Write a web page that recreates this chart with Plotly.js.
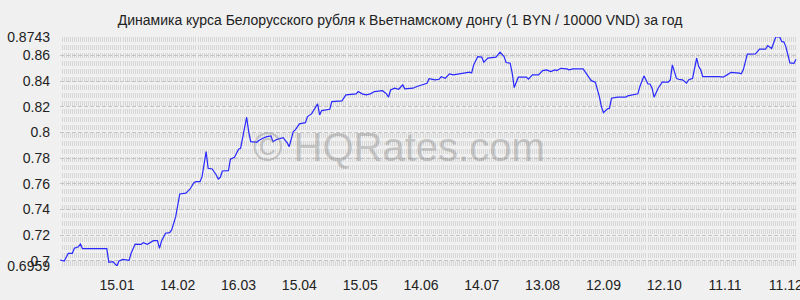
<!DOCTYPE html>
<html><head><meta charset="utf-8">
<script src="https://cdn.plot.ly/plotly-3.0.1.min.js"></script>
<style>html,body{margin:0;padding:0;background:#f0f0f0;overflow:hidden}</style>
</head><body>
<div id="chart" style="width:800px;height:300px"></div>
<script>
const titleText = 'Динамика курса Белорусского рубля к Вьетнамскому донгу (1 BYN / 10000 VND) за год';
const watermark = '© HQRates.com';
const credit = 'image-charts.com';

const dates = [
'2024-12-18','2024-12-20','2024-12-22','2024-12-24','2024-12-25','2024-12-27','2024-12-28','2024-12-29',
'2025-01-10','2025-01-11','2025-01-13','2025-01-15','2025-01-16','2025-01-18','2025-01-21','2025-01-22',
'2025-01-24','2025-01-27','2025-01-28','2025-01-30','2025-02-02','2025-02-04','2025-02-05','2025-02-06',
'2025-02-08','2025-02-10','2025-02-11','2025-02-13','2025-02-15','2025-02-18','2025-02-20','2025-02-22',
'2025-02-23','2025-02-25','2025-02-26','2025-02-28','2025-03-01','2025-03-03','2025-03-05','2025-03-06',
'2025-03-07','2025-03-08','2025-03-11','2025-03-12','2025-03-14','2025-03-16','2025-03-17','2025-03-20',
'2025-03-21','2025-03-22','2025-03-25','2025-03-26','2025-03-28','2025-03-30','2025-04-01',
'2025-04-02','2025-04-04','2025-04-07','2025-04-09','2025-04-10','2025-04-12','2025-04-13','2025-04-15',
'2025-04-18','2025-04-19','2025-04-21','2025-04-24','2025-04-25','2025-04-26','2025-04-30','2025-05-01',
'2025-05-06',
'2025-05-08','2025-05-13','2025-05-14','2025-05-16','2025-05-18','2025-05-20','2025-05-22','2025-05-26',
'2025-05-28','2025-05-29','2025-05-30','2025-06-01','2025-06-03','2025-06-05','2025-06-06','2025-06-10',
'2025-06-12','2025-06-15','2025-06-17','2025-06-18','2025-06-21','2025-06-23','2025-06-24','2025-06-26',
'2025-06-28','2025-06-30','2025-07-03','2025-07-05','2025-07-08','2025-07-09','2025-07-10','2025-07-12',
'2025-07-14','2025-07-15','2025-07-17','2025-07-21','2025-07-23','2025-07-25','2025-07-26','2025-07-28',
'2025-07-29','2025-07-30','2025-08-01','2025-08-05','2025-08-06',
'2025-08-08','2025-08-11','2025-08-13','2025-08-15','2025-08-17','2025-08-19','2025-08-20','2025-08-22',
'2025-08-25','2025-08-26','2025-08-28','2025-09-02','2025-09-04','2025-09-06','2025-09-08','2025-09-10',
'2025-09-11','2025-09-12','2025-09-14','2025-09-15','2025-09-16','2025-09-19','2025-09-23','2025-09-24',
'2025-09-29','2025-09-30','2025-10-02','2025-10-04','2025-10-05','2025-10-06','2025-10-07','2025-10-08',
'2025-10-09','2025-10-11','2025-10-14','2025-10-15','2025-10-16','2025-10-18','2025-10-19','2025-10-21',
'2025-10-23','2025-10-24','2025-10-26','2025-10-28','2025-10-29','2025-10-30','2025-10-31','2025-11-08',
'2025-11-10','2025-11-12','2025-11-14','2025-11-18','2025-11-19','2025-11-20','2025-11-22','2025-11-26',
'2025-11-28','2025-12-01','2025-12-02','2025-12-04','2025-12-06','2025-12-08','2025-12-09','2025-12-10',
'2025-12-11','2025-12-13','2025-12-15','2025-12-16'
];
const rates = [
0.7006,0.6998,0.7058,0.7058,0.7097,0.7109,0.7130,0.7094,
0.7094,0.6988,0.6993,0.6959,0.6998,0.7011,0.7003,0.7058,
0.7130,0.7128,0.7141,0.7128,0.7156,0.7156,0.7097,0.7154,
0.7214,0.7219,0.7240,0.7343,0.7520,0.7526,0.7557,0.7608,
0.7616,0.7616,0.7655,0.7850,0.7720,0.7715,0.7668,0.7637,
0.7650,0.7699,0.7702,0.7791,0.7806,0.7869,0.7876,0.8118,
0.8006,0.7928,0.7923,0.7936,0.7954,0.7967,0.7972,
0.7928,0.7946,0.7959,0.7918,0.7889,0.8006,0.8019,0.8066,
0.8076,0.8123,0.8144,0.8222,0.8136,0.8170,0.8180,0.8240,
0.8245,
0.8292,0.8300,0.8318,0.8300,0.8292,0.8300,0.8318,0.8325,
0.8300,0.8274,0.8330,0.8344,0.8336,0.8370,0.8339,0.8344,
0.8357,0.8370,0.8383,0.8419,0.8409,0.8414,0.8434,0.8422,
0.8456,0.8448,0.8456,0.8466,0.8469,0.8463,0.8526,0.8590,
0.8586,0.8547,0.8578,0.8586,0.8625,0.8590,0.8544,0.8539,
0.8461,0.8349,0.8430,0.8430,0.8414,
0.8448,0.8448,0.8481,0.8487,0.8473,0.8487,0.8481,0.8499,
0.8494,0.8487,0.8494,0.8494,0.8448,0.8403,0.8391,0.8279,
0.8201,0.8154,0.8183,0.8188,0.8266,0.8274,0.8274,0.8284,
0.8300,0.8357,0.8440,0.8377,0.8377,0.8344,0.8274,0.8310,
0.8344,0.8391,0.8391,0.8409,0.8526,0.8422,0.8414,0.8409,
0.8383,0.8409,0.8422,0.8578,0.8513,0.8487,0.8434,0.8434,
0.8430,0.8448,0.8468,0.8461,0.8456,0.8487,0.8609,0.8611,
0.8648,0.8648,0.8676,0.8653,0.8743,0.8743,0.8707,0.8705,
0.8668,0.8541,0.8537,0.8570
];

const tickDates = ['2025-01-15','2025-02-14','2025-03-16','2025-04-15','2025-05-15','2025-06-14',
  '2025-07-14','2025-08-13','2025-09-12','2025-10-12','2025-11-11','2025-12-11'];
const tickLabels = ['15.01','14.02','16.03','15.04','15.05','14.06','14.07','13.08','12.09','12.10','11.11','11.12'];
const yTicks = [0.6959,0.7,0.72,0.74,0.76,0.78,0.8,0.82,0.84,0.86,0.8743];
const yTickLabels = ['0.6959','0.7','0.72','0.74','0.76','0.78','0.8','0.82','0.84','0.86','0.8743'];
const xRange = ['2024-12-17 22:00','2025-12-16 12:00'];

const font = 'Arial, "Liberation Sans", sans-serif';

Plotly.newPlot('chart', [{
  x: dates, y: rates, type: 'scatter', mode: 'lines',
  line: {color: 'rgb(40,40,255)', width: 1.2},
  hoverinfo: 'skip'
}], {
  width: 800, height: 300,
  paper_bgcolor: '#f0f0f0', plot_bgcolor: '#f0f0f0',
  margin: {l: 60, r: 3, t: 37, b: 34, pad: 0},
  showlegend: false,
  font: {family: font, size: 14, color: '#222'},
  title: {text: titleText, x: 0.5, xanchor: 'center', yref: 'container', y: 0.932, yanchor: 'middle',
          font: {family: font, size: 14, color: '#222'}},
  xaxis: {
    type: 'date', range: xRange, tickmode: 'array', tickvals: tickDates, ticktext: tickLabels,
    showgrid: false, zeroline: false, showline: false, ticks: '', ticklabelstandoff: 9,
    ticklabeloverflow: 'allow', automargin: false,
    tickfont: {family: font, size: 14, color: '#222'},
    minor: {dtick: 86400000, tick0: '2024-12-18', showgrid: true, gridcolor: '#d6d6d6', gridwidth: 1, griddash: '5px,3px'}
  },
  yaxis: {
    range: [0.6959, 0.8743], tickmode: 'array', tickvals: yTicks, ticktext: yTickLabels,
    showgrid: true, gridcolor: '#c4c4c4', gridwidth: 1, griddash: '4px,2px',
    zeroline: false, showline: false, ticks: '', ticklabelstandoff: 9, automargin: false,
    tickfont: {family: font, size: 14, color: '#222'}
  },
  annotations: [
    {text: watermark, xref: 'paper', yref: 'paper', x: 0.46, y: 0.52, xanchor: 'center', yanchor: 'middle',
     showarrow: false, font: {family: font, size: 40, color: 'rgba(128,128,128,0.4)'}},
    {text: credit, xref: 'paper', yref: 'container', x: 1, xanchor: 'right', xshift: -4, y: 1, yanchor: 'top', yshift: 1,
     showarrow: false, font: {family: font, size: 9, color: '#333'}}
  ]
}, {staticPlot: true});
</script>
</body></html>
